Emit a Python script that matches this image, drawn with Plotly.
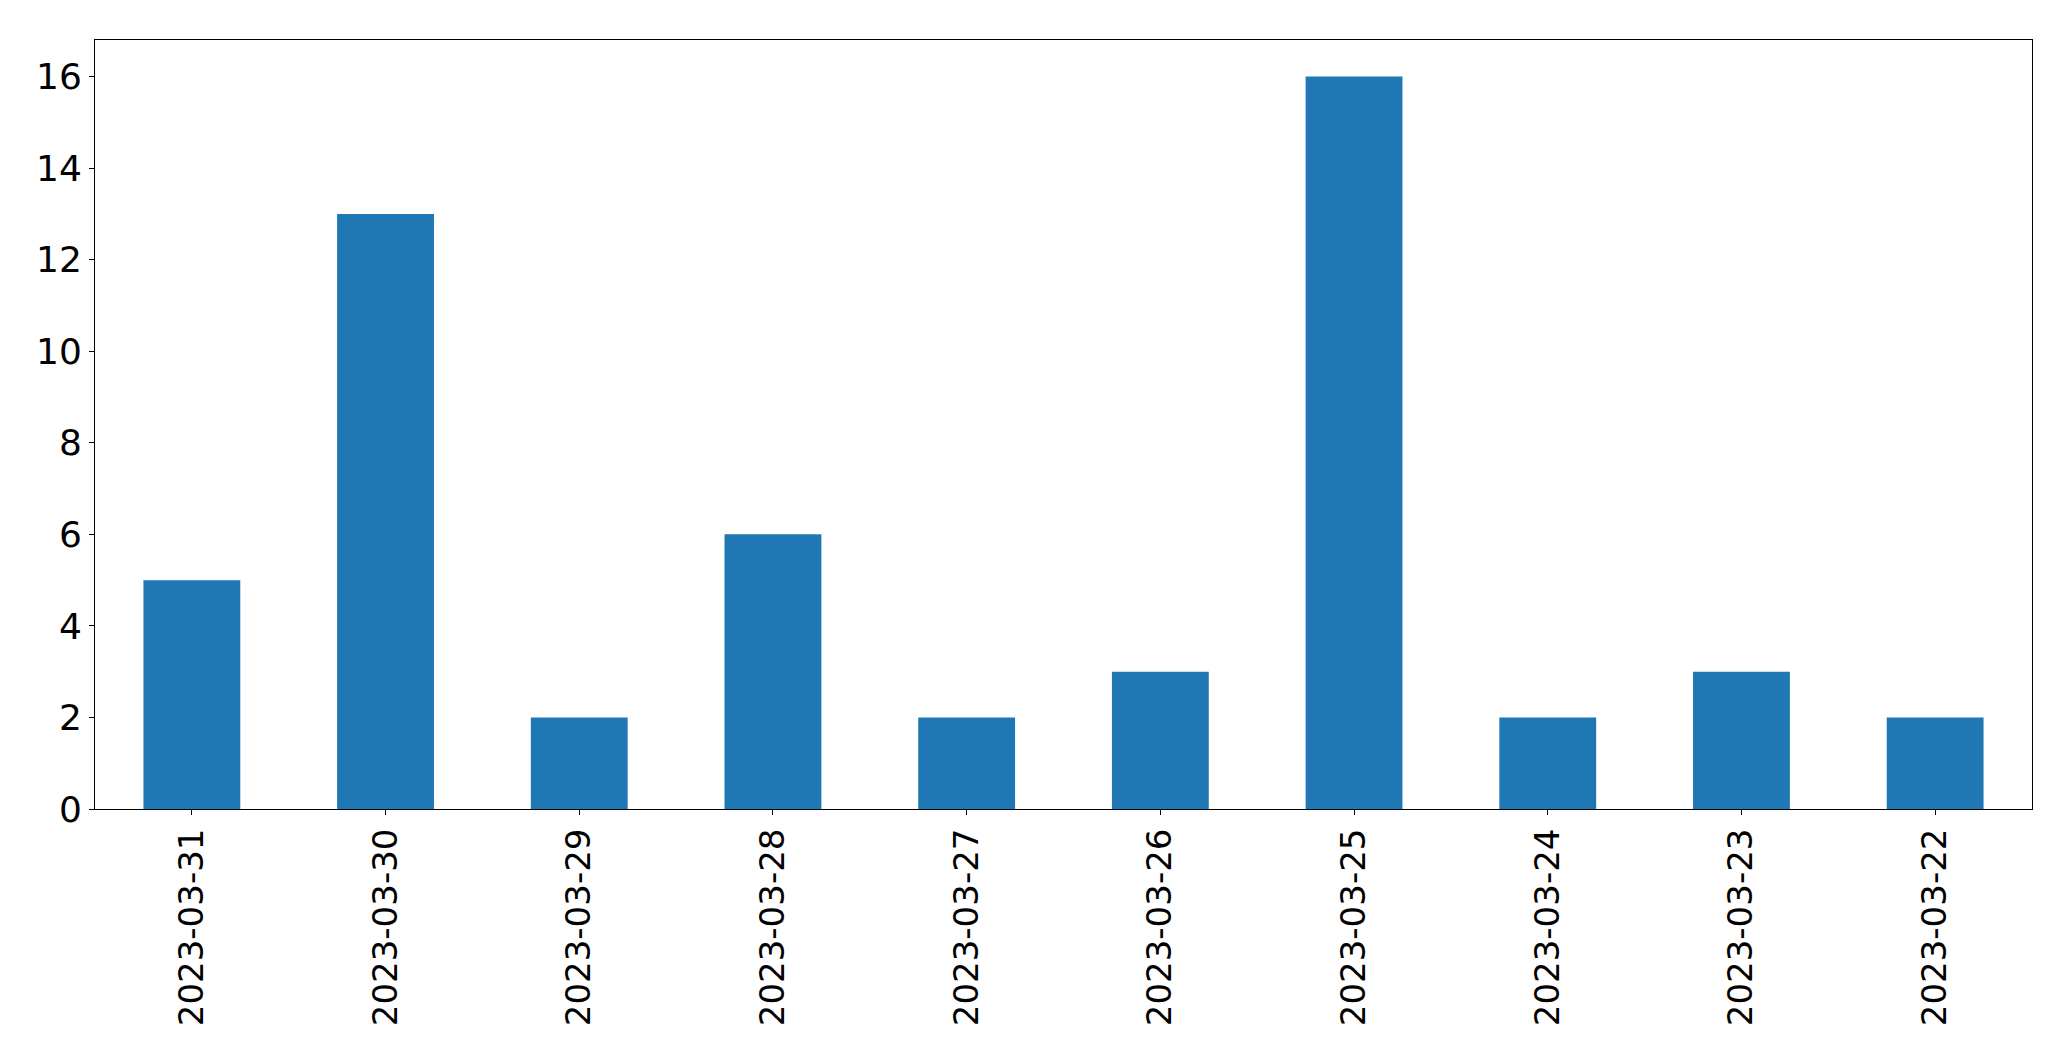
import plotly.graph_objects as go

dates = ["2023-03-31", "2023-03-30", "2023-03-29", "2023-03-28", "2023-03-27",
         "2023-03-26", "2023-03-25", "2023-03-24", "2023-03-23", "2023-03-22"]
counts = [5, 13, 2, 6, 2, 3, 16, 2, 3, 2]

fig = go.Figure(go.Bar(x=dates, y=counts, marker=dict(color="#1f77b4", line=dict(width=0))))

axis_common = dict(
    showgrid=False, zeroline=False, showline=True, linecolor="black", linewidth=1,
    mirror=True, ticks="outside", ticklen=5, tickwidth=1, tickcolor="black",
)

fig.update_layout(
    width=2063, height=1053,
    margin=dict(l=87, r=39, t=32, b=252, pad=0),
    plot_bgcolor="white", paper_bgcolor="white",
    bargap=0.5, showlegend=False,
    xaxis=dict(type="category", range=[-0.5, 9.5], tickangle=-90,
               tickfont=dict(family="DejaVu Sans", size=34, color="black"), **axis_common),
    yaxis=dict(range=[0, 16.8], tickmode="linear", tick0=0, dtick=2,
               tickfont=dict(family="DejaVu Sans", size=36, color="black"), **axis_common),
)

fig.write_html("out.html")
